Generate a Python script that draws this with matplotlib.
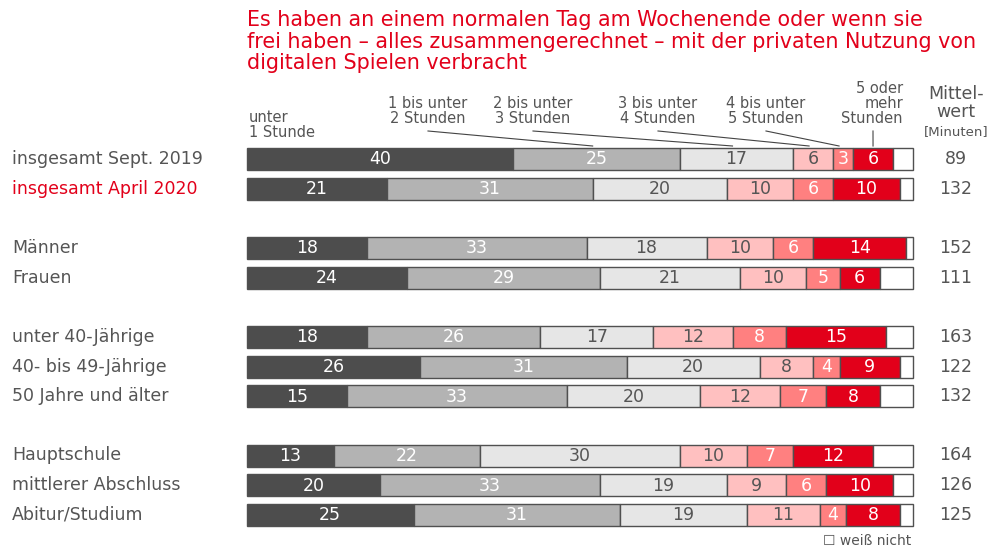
import matplotlib.pyplot as plt
import numpy as np

rows = ["insgesamt Sept. 2019", "insgesamt April 2020", "Männer", "Frauen",
        "unter 40-Jährige", "40- bis 49-Jährige", "50 Jahre und älter",
        "Hauptschule", "mittlerer Abschluss", "Abitur/Studium"]
unter_1 = [40, 21, 18, 24, 18, 26, 15, 13, 20, 25]
std_1_2 = [25, 31, 33, 29, 26, 31, 33, 22, 33, 31]
std_2_3 = [17, 20, 18, 21, 17, 20, 20, 30, 19, 19]
std_3_4 = [6, 10, 10, 10, 12, 8, 12, 10, 9, 11]
std_4_5 = [3, 6, 6, 5, 8, 4, 7, 7, 6, 4]
std_5_plus = [6, 10, 14, 6, 15, 9, 8, 12, 10, 8]
mittelwert = [89, 132, 152, 111, 163, 122, 132, 164, 126, 125]
categories = ["unter\n1 Stunde", "1 bis unter\n2 Stunden", "2 bis unter\n3 Stunden",
              "3 bis unter\n4 Stunden", "4 bis unter\n5 Stunden", "5 oder\nmehr\nStunden"]

colors = ["#4d4d4d", "#b3b3b3", "#e6e6e6", "#ffc0c0", "#ff8080", "#e2001a"]
txt_colors = ["white", "white", "#555555", "#555555", "white", "white"]
red = "#e2001a"
grey = "#555555"

segs = np.array([unter_1, std_1_2, std_2_3, std_3_4, std_4_5, std_5_plus], dtype=float)
slots = np.array([0, 1, 3, 4, 6, 7, 8, 10, 11, 12])

# axes cover the whole figure; x in percent, y in pixels from the top
x0, scale = 247, 6.66
def X(p):
    return (p - x0) / scale

fig = plt.figure(figsize=(9.92, 5.5), dpi=100)
ax = fig.add_axes([0, 0, 1, 1])
ax.set_xlim(X(0), X(992))
ax.set_ylim(550, 0)
ax.axis("off")

ypos = 159 + slots * 29.65
bh = 22

left = np.zeros(len(rows))
for k in range(6):
    ax.barh(ypos, segs[k], left=left, height=bh, color=colors[k],
            edgecolor="#505050", linewidth=1.0)
    for i in range(len(rows)):
        ax.text(left[i] + segs[k][i] / 2, ypos[i] + 0.5, "%d" % segs[k][i],
                ha="center", va="center", fontsize=12.5, color=txt_colors[k])
    left += segs[k]

# weiß nicht remainder
ax.barh(ypos, 100 - left, left=left, height=bh, color="white",
        edgecolor="#505050", linewidth=1.0)

for i, name in enumerate(rows):
    ax.text(X(12), ypos[i], name, ha="left", va="center", fontsize=12.5,
            color=red if i == 1 else grey)
    ax.text(X(956), ypos[i], str(mittelwert[i]), ha="center", va="center",
            fontsize=12.5, color=grey)

# column headers with leader lines to the first bar
ax.text(X(249), 140, categories[0], ha="left", va="bottom", fontsize=10.5,
        color=grey, linespacing=1.0)
hdr_x = [428, 533, 658, 766]
for k in range(1, 5):
    ax.text(X(hdr_x[k - 1]), 126, categories[k], ha="center", va="bottom",
            fontsize=10.5, color=grey, linespacing=1.0)
ax.text(X(903), 126, categories[5], ha="right", va="bottom", fontsize=10.5,
        color=grey, linespacing=1.0, multialignment="right")

starts = [X(p) for p in hdr_x] + [X(873)]
shift = [0.6, 0.6, 0.6, 0.6, 0.0]
cum = np.cumsum(segs[:, 0])
for k in range(1, 6):
    mid = cum[k] - segs[k][0] / 2 - shift[k - 1]
    ax.plot([starts[k - 1], mid], [131, 146], color="#444444", lw=0.8)

ax.text(X(956), 121, "Mittel-\nwert", ha="center", va="bottom", fontsize=12.5,
        color=grey, linespacing=1.0)
ax.text(X(956), 138, "[Minuten]", ha="center", va="bottom", fontsize=9.5,
        color=grey)

ax.text(X(247), 10, "Es haben an einem normalen Tag am Wochenende oder wenn sie\n"
        "frei haben – alles zusammengerechnet – mit der privaten Nutzung von\n"
        "digitalen Spielen verbracht", ha="left", va="top", fontsize=14.9,
        color=red, linespacing=1.1)

ax.text(X(911), 548, "☐ weiß nicht", ha="right", va="bottom", fontsize=10,
        color=grey)

fig.savefig("out.png", dpi=100)
